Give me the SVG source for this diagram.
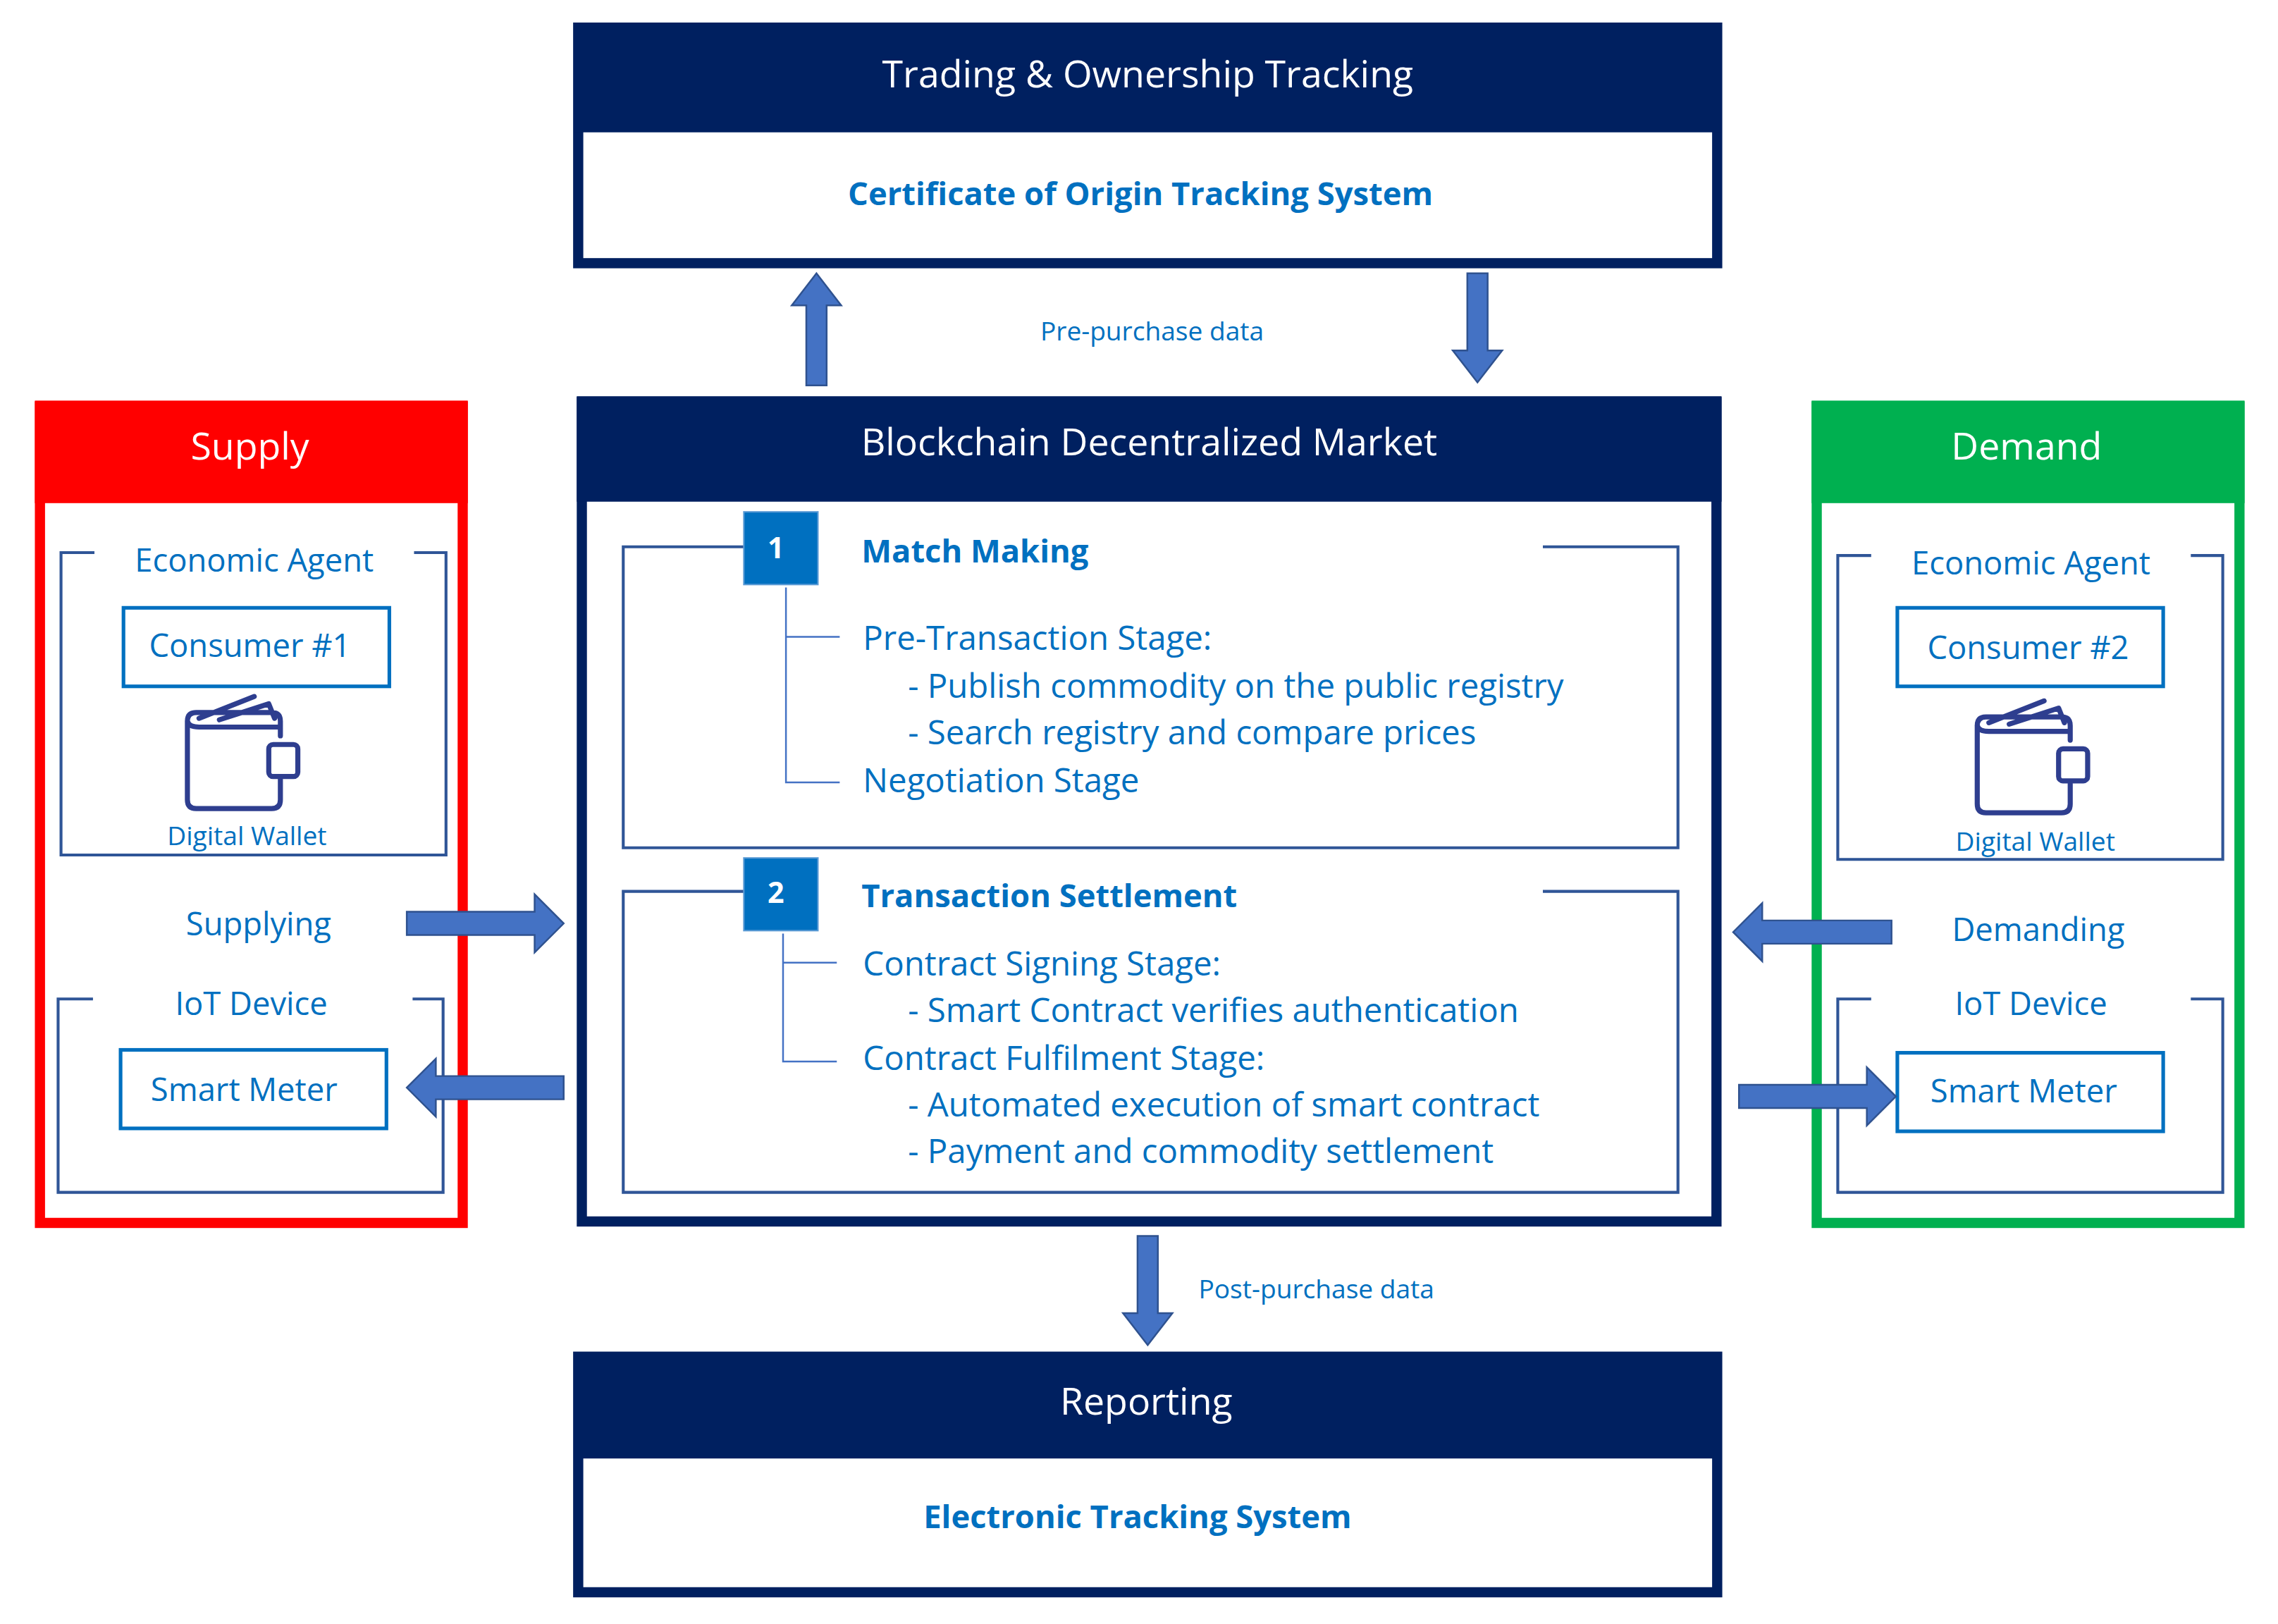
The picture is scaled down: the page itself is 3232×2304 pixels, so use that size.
<svg xmlns="http://www.w3.org/2000/svg" width="3232" height="2304" viewBox="0 0 3232 2304">
<defs>
<style>
text{font-family:"Open Sans",Lato,"Liberation Sans",sans-serif;}
.hd{fill:#fff;font-size:26px;text-anchor:middle}
.bl{fill:#0070C0;font-size:23px}
.blc{fill:#0070C0;font-size:22px;text-anchor:middle}
.bb{fill:#0070C0;font-size:22px;font-weight:bold}
.sm{fill:#0070C0;font-size:18px;text-anchor:middle}
.br{fill:none;stroke:#2F5597;stroke-width:2}
.bx{fill:#fff;stroke:#0070C0;stroke-width:2.5}
.ar{fill:#4472C4;stroke:#2F528F;stroke-width:1.2}
.tr{fill:none;stroke:#4472C4;stroke-width:1.2}
.wl{fill:none;stroke:#2E3E8F;stroke-width:3.5;stroke-linejoin:round;stroke-linecap:round}
</style>
<g id="wallet">
<path class="wl" d="M8,12 L46,-3 M22,13 L56,2 L60,12 M0,14 Q0,8 6,8 L58,8 Q64,8 64,14 L64,24 M0,14 L0,68 Q0,74 6,74 L58,74 Q64,74 64,68 L64,54 M0,14 Q1,18 8,18 L64,18"/>
<rect class="wl" x="56" y="30" width="20" height="22" rx="3"/>
</g>
</defs>
<rect width="3232" height="2304" fill="#fff"/>
<g transform="scale(2.0612,2.063)">
<g id="trading">
<rect x="398" y="19" width="784" height="162" fill="#fff" stroke="#002060" stroke-width="7"/>
<rect x="395" y="17" width="790" height="74" fill="#002060"/>
<text class="hd" x="790" y="60">Trading &amp; Ownership Tracking</text>
<text class="bb" x="785" y="141" text-anchor="middle">Certificate of Origin Tracking System</text>
</g>
<g id="reporting">
<rect x="398" y="933" width="784" height="162" fill="#fff" stroke="#002060" stroke-width="7"/>
<rect x="395" y="930" width="790" height="73" fill="#002060"/>
<text class="hd" x="789" y="973">Reporting</text>
<text class="bb" x="783" y="1051" text-anchor="middle">Electronic Tracking System</text>
</g>
<g id="supply">
<rect x="27.5" y="279" width="291" height="562" fill="#fff" stroke="#FF0000" stroke-width="7"/>
<rect x="24" y="276" width="298" height="70" fill="#FF0000"/>
<text class="hd" x="172" y="316">Supply</text>
<path class="br" d="M65,380 H42 V588 H307 V380 H285"/>
<text class="blc" x="175" y="393">Economic Agent</text>
<rect class="bx" x="85" y="418" width="183" height="54"/>
<text class="blc" x="172" y="452">Consumer #1</text>
<use href="#wallet" x="129" y="482"/>
<text class="sm" x="170" y="581">Digital Wallet</text>
<text class="blc" x="178" y="643">Supplying</text>
<path class="br" d="M64,687 H40 V820 H305 V687 H284"/>
<text class="blc" x="173" y="698">IoT Device</text>
<rect class="bx" x="83" y="722" width="183" height="54"/>
<text class="blc" x="168" y="757">Smart Meter</text>
</g>
<g id="demand">
<rect x="1250.5" y="279" width="291" height="562" fill="#fff" stroke="#00B050" stroke-width="7"/>
<rect x="1247" y="276" width="298" height="70" fill="#00B050"/>
<text class="hd" x="1395" y="316">Demand</text>
<path class="br" d="M1288,382 H1265 V591 H1530 V382 H1508"/>
<text class="blc" x="1398" y="395">Economic Agent</text>
<rect class="bx" x="1306" y="418" width="183" height="54"/>
<text class="blc" x="1396" y="453">Consumer #2</text>
<use href="#wallet" x="1361" y="485"/>
<text class="sm" x="1401" y="585">Digital Wallet</text>
<text class="blc" x="1403" y="647">Demanding</text>
<path class="br" d="M1288,687 H1265 V820 H1530 V687 H1508"/>
<text class="blc" x="1398" y="698">IoT Device</text>
<rect class="bx" x="1306" y="724" width="183" height="54"/>
<text class="blc" x="1393" y="758">Smart Meter</text>
</g>
<g id="market">
<rect x="400.5" y="276" width="781" height="564" fill="#fff" stroke="#002060" stroke-width="7"/>
<rect x="397" y="273" width="788" height="72" fill="#002060"/>
<text class="hd" x="791" y="313">Blockchain Decentralized Market</text>
<g id="match">
<path class="br" d="M512,376 H429 V583 H1155 V376 H1062"/>
<rect x="512" y="352" width="51" height="50" fill="#0070C0" stroke="#5B9BD5" stroke-width="1"/>
<text x="534" y="384" fill="#fff" font-size="20" font-weight="bold" text-anchor="middle">1</text>
<text class="bb" x="593" y="387">Match Making</text>
<path class="tr" d="M541,404 V538 H578 M541,438 H578"/>
<text class="bl" x="594" y="447">Pre-Transaction Stage:</text>
<text class="bl" x="625" y="480">- Publish commodity on the public registry</text>
<text class="bl" x="625" y="512">- Search registry and compare prices</text>
<text class="bl" x="594" y="545">Negotiation Stage</text>
</g>
<g id="settlement">
<path class="br" d="M512,613 H429 V820 H1155 V613 H1062"/>
<rect x="512" y="590" width="51" height="50" fill="#0070C0" stroke="#5B9BD5" stroke-width="1"/>
<text x="534" y="621" fill="#fff" font-size="20" font-weight="bold" text-anchor="middle">2</text>
<text class="bb" x="593" y="624">Transaction Settlement</text>
<path class="tr" d="M539,642 V730 H576 M539,662 H576"/>
<text class="bl" x="594" y="671">Contract Signing Stage:</text>
<text class="bl" x="625" y="703">- Smart Contract verifies authentication</text>
<text class="bl" x="594" y="736">Contract Fulfilment Stage:</text>
<text class="bl" x="625" y="768">- Automated execution of smart contract</text>
<text class="bl" x="625" y="800">- Payment and commodity settlement</text>
</g>
</g>
<g id="connectors">
<path class="ar" d="M555,265 V210 H545 L562,188 L579,210 H569 V265 Z"/>
<path class="ar" d="M1010,188 V241 H1000 L1017,263 L1034,241 H1024 V188 Z"/>
<path class="ar" d="M783,850 V903 H773 L790,925 L807,903 H797 V850 Z"/>
<path class="ar" d="M280,627 H368 V615 L388,635 L368,655 V643 H280 Z"/>
<path class="ar" d="M388,740 H300 V728 L280,748 L300,768 V756 H388 Z"/>
<path class="ar" d="M1302,633 H1213 V621 L1193,641 L1213,661 V649 H1302 Z"/>
<path class="ar" d="M1197,746 H1285 V734 L1305,754 L1285,774 V762 H1197 Z"/>
<text x="793" y="234" fill="#0070C0" font-size="18" text-anchor="middle">Pre-purchase data</text>
<text x="825" y="893" fill="#0070C0" font-size="18">Post-purchase data</text>
</g>
</g>
</svg>
